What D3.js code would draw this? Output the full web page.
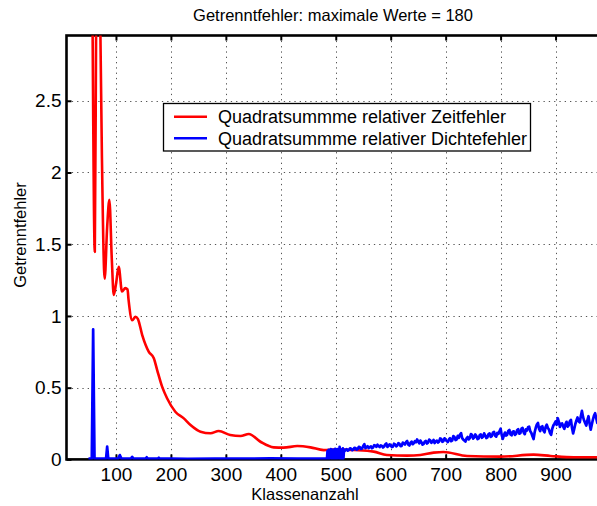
<!DOCTYPE html>
<html>
<head>
<meta charset="utf-8">
<script src="https://cdn.jsdelivr.net/npm/d3@7"></script>
<style>
  body { margin: 0; background: #fff; }
  svg { display: block; }
  text { font-family: "Liberation Sans", Arial, Helvetica, sans-serif; fill: #000; }
</style>
</head>
<body>
<svg id="chart" width="597" height="506"></svg>
<script>
// Axis ticks
const xTicks = [100, 200, 300, 400, 500, 600, 700, 800, 900];
const yTicks = [0, 0.5, 1, 1.5, 2, 2.5];
const yTickLabels = ["0", "0.5", "1", "1.5", "2", "2.5"];

// Texts
const titleText = "Getrenntfehler: maximale Werte = 180";
const xLabelText = "Klassenanzahl";
const yLabelText = "Getrenntfehler";
const seriesNames = ["Quadratsummme relativer Zeitfehler", "Quadratsummme relativer Dichtefehler"];

// Quadratsumme relativer Zeitfehler (red)
const zeitX = [50, 54, 57.5, 61.5, 64, 67, 71, 74.5, 79.5, 84, 88, 92.5, 96, 100, 105, 111, 117, 121, 123,
  129.6, 135.6, 139.8, 147.8, 159.8, 168.9, 175, 184, 193, 208, 223.5, 235.7, 253.9, 272, 287, 308,
  326.7, 341.8, 363, 387, 405, 430, 454, 478, 502.6, 533, 569, 593, 630, 654, 678, 696, 739, 800,
  860, 891, 933, 976, 1000];
const zeitY = [8, 5.5, 3.0, 1.447, 3.1, 4.6, 3.2, 2.1, 1.26, 1.62, 1.81, 1.39, 1.146, 1.22, 1.343, 1.17, 1.194, 1.185, 1.11,
  0.97, 0.994, 0.98, 0.867, 0.75, 0.705, 0.623, 0.507, 0.426, 0.332, 0.286, 0.24, 0.193, 0.182, 0.198, 0.17,
  0.163, 0.177, 0.123, 0.084, 0.082, 0.093, 0.084, 0.065, 0.07, 0.065, 0.054, 0.031, 0.026, 0.031, 0.047, 0.052, 0.024, 0.019,
  0.033, 0.024, 0.015, 0.015, 0.014];

// Quadratsumme relativer Dichtefehler (blue): low range with spikes
const dichteX = [50, 56, 58.5, 61, 82, 84, 86, 104, 107, 110, 127, 129.5, 132, 154, 156, 158, 176, 178, 180,
  200, 230, 280, 330, 380, 430, 483];
const dichteY = [0.005, 0.005, 0.907, 0.005, 0.005, 0.089, 0.005, 0.005, 0.03, 0.005, 0.005, 0.018, 0.005,
  0.005, 0.015, 0.005, 0.005, 0.012, 0.005, 0.006, 0.004, 0.006, 0.005, 0.007, 0.005, 0.006];
// one value per class count, starting at 484
const dichteBlockStart = 484;
const dichteBlock = [0.004, 0.058, 0.006, 0.067, 0.003, 0.061, 0.008, 0.072, 0.005, 0.064, 0.004, 0.069,
  0.007, 0.058, 0.003, 0.074, 0.006, 0.066, 0.004, 0.071, 0.009, 0.063, 0.005, 0.088, 0.004, 0.07,
  0.006, 0.065, 0.003, 0.077, 0.005, 0.069];
// every 2nd class count, starting at 516
const dichteTailStart = 516, dichteTailStep = 2;
const dichteTail = [
  0.058, 0.067, 0.071, 0.061, 0.066, 0.077, 0.074, 0.064, 0.069, 0.081, 0.079, 0.068, 0.072, 0.088, 0.085, 0.073,
  0.076, 0.094, 0.106, 0.078, 0.083, 0.092, 0.079, 0.086, 0.091, 0.078, 0.084, 0.099, 0.097, 0.088, 0.102, 0.093,
  0.086, 0.098, 0.094, 0.083, 0.09, 0.104, 0.111, 0.087, 0.093, 0.105, 0.098, 0.086, 0.089, 0.109, 0.104, 0.091,
  0.097, 0.113, 0.108, 0.092, 0.094, 0.117, 0.112, 0.104, 0.121, 0.128, 0.103, 0.097, 0.115, 0.124, 0.106, 0.113,
  0.127, 0.119, 0.139, 0.126, 0.112, 0.131, 0.12, 0.103, 0.108, 0.124, 0.129, 0.111, 0.117, 0.138, 0.133, 0.116,
  0.122, 0.135, 0.114, 0.126, 0.131, 0.118, 0.124, 0.146, 0.142, 0.123, 0.128, 0.147, 0.136, 0.129, 0.121, 0.139,
  0.148, 0.127, 0.133, 0.162, 0.157, 0.135, 0.139, 0.164, 0.151, 0.172, 0.183, 0.149, 0.138, 0.131, 0.124, 0.147,
  0.156, 0.139, 0.148, 0.176, 0.171, 0.145, 0.152, 0.174, 0.163, 0.141, 0.146, 0.169, 0.174, 0.151, 0.158, 0.182,
  0.168, 0.149, 0.154, 0.176, 0.181, 0.157, 0.162, 0.187, 0.192, 0.165, 0.159, 0.184, 0.178, 0.196, 0.214, 0.171,
  0.143, 0.168, 0.187, 0.166, 0.172, 0.198, 0.205, 0.174, 0.168, 0.193, 0.196, 0.171, 0.177, 0.204, 0.211, 0.179,
  0.183, 0.214, 0.219, 0.188, 0.176, 0.209, 0.201, 0.224, 0.228, 0.196, 0.184, 0.161, 0.142, 0.189, 0.221, 0.243,
  0.254, 0.212, 0.197, 0.226, 0.231, 0.201, 0.189, 0.227, 0.242, 0.219, 0.208, 0.184, 0.171, 0.214, 0.236, 0.249,
  0.264, 0.241, 0.287, 0.262, 0.226, 0.248, 0.251, 0.229, 0.213, 0.244, 0.262, 0.228, 0.239, 0.266, 0.276, 0.219,
  0.181, 0.213, 0.247, 0.271, 0.292, 0.266, 0.258, 0.301, 0.338, 0.296, 0.271, 0.252, 0.236, 0.274, 0.301, 0.248,
  0.207, 0.243, 0.278, 0.306, 0.322, 0.287, 0.254, 0.276, 0.297, 0.244, 0.205, 0.262, 0.31];

// ---- layout
const svg = d3.select("#chart");
const plotLeft = 66.5, plotRight = 610.5, plotTop = 35.5, plotBottom = 459.4;
const x = d3.scaleLinear().domain([10, 1000]).range([plotLeft, plotRight]);
const y = d3.scaleLinear().domain([0, 2.955]).range([plotBottom, plotTop]);

svg.append("rect").attr("width", 597).attr("height", 506).attr("fill", "#fff");

svg.append("defs").append("clipPath").attr("id", "plotclip")
  .append("rect").attr("x", plotLeft).attr("y", plotTop)
  .attr("width", plotRight - plotLeft).attr("height", plotBottom - plotTop);

// dotted grid
const grid = svg.append("g").attr("stroke", "#555").attr("stroke-width", 1).attr("stroke-dasharray", "1.3 4");
grid.selectAll("line.gx").data(xTicks).join("line").attr("class", "gx")
  .attr("x1", d => Math.round(x(d)) + 0.5).attr("x2", d => Math.round(x(d)) + 0.5)
  .attr("y1", plotTop).attr("y2", plotBottom);
grid.selectAll("line.gy").data(yTicks.filter(d => d > 0)).join("line").attr("class", "gy")
  .attr("y1", d => Math.round(y(d)) + 0.5).attr("y2", d => Math.round(y(d)) + 0.5)
  .attr("x1", plotLeft).attr("x2", plotRight);

// axes with inward ticks
const fontTick = 19;
const xAxis = svg.append("g").attr("transform", `translate(0,${plotBottom})`)
  .call(d3.axisBottom(x).tickValues(xTicks).tickSizeInner(-5).tickSizeOuter(0).tickPadding(8));
const xAxisTop = svg.append("g").attr("transform", `translate(0,${plotTop})`)
  .call(d3.axisTop(x).tickValues(xTicks).tickSizeInner(-5).tickSizeOuter(0).tickFormat(""));
const yAxis = svg.append("g").attr("transform", `translate(${plotLeft},0)`)
  .call(d3.axisLeft(y).tickValues(yTicks).tickSizeInner(-5).tickSizeOuter(0).tickPadding(5)
    .tickFormat((d, i) => yTickLabels[i]));
const yAxisRight = svg.append("g").attr("transform", `translate(${plotRight},0)`)
  .call(d3.axisRight(y).tickValues(yTicks).tickSizeInner(-5).tickSizeOuter(0).tickFormat(""));
[xAxis, xAxisTop, yAxis, yAxisRight].forEach(g => {
  g.select(".domain").remove();
  g.selectAll(".tick line").attr("stroke", "#000").attr("stroke-width", 2);
  g.selectAll(".tick text").attr("font-size", fontTick).attr("font-family", null);
});
svg.append("rect").attr("x", plotLeft).attr("y", plotTop)
  .attr("width", plotRight - plotLeft).attr("height", plotBottom - plotTop)
  .attr("fill", "none").attr("stroke", "#000").attr("stroke-width", 2.6);

// data lines
const plot = svg.append("g").attr("clip-path", "url(#plotclip)");
const zeit = zeitX.map((v, i) => [v, zeitY[i]]);
const dichte = dichteX.map((v, i) => [v, dichteY[i]])
  .concat(dichteBlock.map((v, i) => [dichteBlockStart + i, v]))
  .concat(dichteTail.map((v, i) => [dichteTailStart + i * dichteTailStep, v]));

plot.append("path").datum(zeit)
  .attr("d", d3.line().x(d => x(d[0])).y(d => y(d[1])).curve(d3.curveMonotoneX))
  .attr("fill", "none").attr("stroke", "#ff0000").attr("stroke-width", 2.6).attr("stroke-linejoin", "round");
plot.append("path").datum(dichte)
  .attr("d", d3.line().x(d => x(d[0])).y(d => y(d[1])))
  .attr("fill", "none").attr("stroke", "#0000ff").attr("stroke-width", 2.7).attr("stroke-linejoin", "round");

// titles
svg.append("text").attr("x", 333).attr("y", 21).attr("text-anchor", "middle").attr("font-size", 16.5).text(titleText);
svg.append("text").attr("x", 305).attr("y", 500).attr("text-anchor", "middle").attr("font-size", 16.5).text(xLabelText);
svg.append("text").attr("transform", "translate(26,235) rotate(-90)").attr("text-anchor", "middle")
  .attr("font-size", 16.5).text(yLabelText);

// legend
const lg = svg.append("g");
lg.append("rect").attr("x", 163.5).attr("y", 103.5).attr("width", 367).attr("height", 47.5)
  .attr("fill", "#fff").attr("stroke", "#000").attr("stroke-width", 1.3);
const colors = ["#ff0000", "#0000ff"];
const rowsY = [116.7, 138.3];
seriesNames.forEach((name, i) => {
  lg.append("line").attr("x1", 174).attr("x2", 207).attr("y1", rowsY[i]).attr("y2", rowsY[i])
    .attr("stroke", colors[i]).attr("stroke-width", 2.5);
  lg.append("text").attr("x", 218).attr("y", rowsY[i] + 6.4).attr("font-size", 18).text(name);
});
</script>
</body>
</html>
